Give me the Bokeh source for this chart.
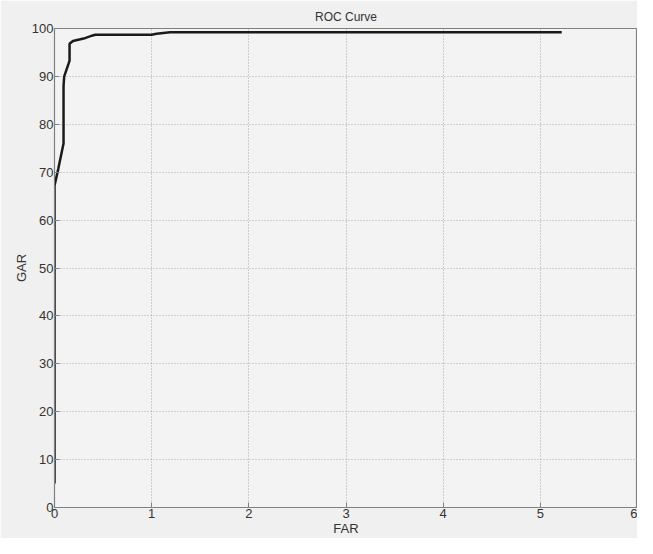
from bokeh.plotting import figure
from bokeh.models import Range1d, FixedTicker
from bokeh.embed import file_html
from bokeh.resources import INLINE

# ROC curve data (FAR in %, GAR in %)
far = [0.0, 0.0, 0.0, 0.0, 0.04, 0.093, 0.093, 0.10, 0.144, 0.155, 0.155, 0.19,
       0.30, 0.385, 0.42, 1.0, 1.05, 1.19, 5.22]
gar = [5.0, 36.0, 60.0, 67.2, 70.8, 76.0, 88.0, 90.0, 92.6, 93.3, 96.8, 97.4,
       97.9, 98.5, 98.7, 98.7, 98.9, 99.2, 99.2]

x_ticks = [0, 1, 2, 3, 4, 5, 6]
y_ticks = [0, 10, 20, 30, 40, 50, 60, 70, 80, 90, 100]

FONT = "Liberation Sans"
BG = "#f0f0f0"

p = figure(width=637, height=538, output_backend="svg", toolbar_location=None,
           x_range=Range1d(0, 6), y_range=Range1d(0, 100),
           title="ROC Curve", min_border_left=54, min_border_right=0,
           min_border_top=28, min_border_bottom=28)

p.background_fill_color = "#f3f3f3"
p.border_fill_color = BG
p.outline_line_color = "#808080"
p.outline_line_width = 1.2

p.title.align = "center"
p.title.text_font = FONT
p.title.text_font_size = "12px"
p.title.text_font_style = "normal"
p.title.text_color = "#333333"

p.line(far, gar, line_color="#1a1a1a", line_width=2.5)

for ax in (p.xaxis[0], p.yaxis[0]):
    ax.axis_line_color = "#808080"
    ax.major_tick_in = 5
    ax.major_tick_out = 0
    ax.minor_tick_line_color = None
    ax.major_tick_line_color = "#808080"
    ax.major_label_text_font = FONT
    ax.major_label_text_font_size = "13px"
    ax.major_label_text_color = "#333333"
    ax.axis_label_text_font = FONT
    ax.axis_label_text_font_size = "13px"
    ax.axis_label_text_font_style = "normal"
    ax.axis_label_text_color = "#333333"
    ax.major_label_standoff = 1
    ax.axis_label_standoff = 0

p.xaxis.ticker = FixedTicker(ticks=x_ticks)
p.yaxis.ticker = FixedTicker(ticks=y_ticks)
p.xaxis.axis_label = "FAR"
p.yaxis.axis_label = "GAR"

p.xgrid.ticker = FixedTicker(ticks=x_ticks)
p.ygrid.ticker = FixedTicker(ticks=y_ticks)
p.grid.grid_line_color = "#a8a8a8"
p.grid.grid_line_dash = "1 2"
p.grid.grid_line_width = 1

open("out.html", "w").write(file_html(p, INLINE))
